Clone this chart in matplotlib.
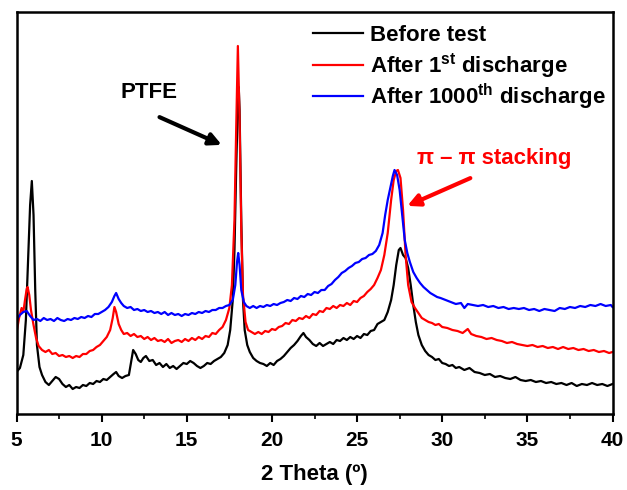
import matplotlib
matplotlib.use("Agg")
import matplotlib.pyplot as plt

plt.rcParams['font.family'] = ['Liberation Sans', 'DejaVu Sans']
plt.rcParams['font.weight'] = 'bold'
plt.rcParams['mathtext.fontset'] = 'custom'
plt.rcParams['mathtext.rm'] = 'Liberation Sans:bold'
plt.rcParams['mathtext.bf'] = 'Liberation Sans:bold'
plt.rcParams['mathtext.it'] = 'Liberation Sans:bold'

# ---- data (arbitrary intensity units) ----
x_before = [5.0, 5.2, 5.4, 5.55, 5.7, 5.8, 5.9, 6.0, 6.1, 6.2, 6.35, 6.5, 6.7, 6.9, 7.1, 7.3, 7.5, 7.7, 7.9,
            8.1, 8.3, 8.5, 8.7, 8.9, 9.1, 9.3, 9.5, 9.7, 9.9, 10.1, 10.3, 10.5, 10.7, 10.85, 11.0, 11.2, 11.4,
            11.6, 11.75, 11.85, 12.0, 12.15, 12.3, 12.45, 12.6, 12.8, 13.0, 13.2, 13.4, 13.6, 13.8, 14.0, 14.2,
            14.4, 14.6, 14.8, 15.0, 15.2, 15.4, 15.6, 15.8, 16.0, 16.2, 16.4, 16.6, 16.8, 17.0, 17.2, 17.4,
            17.55, 17.7, 17.8, 17.9, 18.0, 18.05, 18.1, 18.2, 18.3, 18.4, 18.55, 18.7, 18.9, 19.1, 19.3, 19.5,
            19.7, 19.9, 20.1, 20.3, 20.5, 20.7, 20.9, 21.1, 21.3, 21.5, 21.7, 21.85, 22.0, 22.2, 22.4, 22.6,
            22.8, 23.0, 23.2, 23.4, 23.6, 23.8, 24.0, 24.2, 24.4, 24.6, 24.8, 25.0, 25.2, 25.4, 25.6, 25.8,
            26.0, 26.2, 26.4, 26.6, 26.8, 27.0, 27.15, 27.3, 27.45, 27.55, 27.7, 27.85, 28.0, 28.15, 28.3,
            28.45, 28.6, 28.8, 29.0, 29.2, 29.4, 29.6, 29.8, 30.0, 30.2, 30.4, 30.6, 30.8, 31.0, 31.3, 31.6,
            31.9, 32.2, 32.5, 32.8, 33.1, 33.4, 33.7, 34.0, 34.3, 34.6, 34.9, 35.2, 35.5, 35.8, 36.1, 36.4,
            36.7, 37.0, 37.3, 37.6, 37.9, 38.2, 38.5, 38.8, 39.1, 39.4, 39.7, 40.0]
y_before = [42, 46, 59, 94, 164, 209, 233, 199, 124, 69, 47, 39, 32, 29, 33, 37, 35, 30, 27,
            29, 25, 27, 26, 29, 28, 31, 30, 33, 32, 35, 34, 37, 40, 42, 38, 36, 38,
            39, 54, 64, 60, 54, 52, 56, 58, 53, 54, 49, 51, 47, 50, 46, 48,
            45, 48, 51, 50, 53, 51, 48, 46, 48, 51, 50, 53, 55, 57, 61, 69,
            84, 114, 164, 244, 314, 327, 304, 194, 114, 84, 69, 62, 56, 53, 51, 50,
            48, 51, 49, 53, 55, 58, 62, 66, 69, 73, 78, 81, 77, 74, 70, 68,
            71, 68, 70, 72, 70, 74, 73, 76, 74, 77, 75, 78, 76, 80, 79, 83,
            84, 90, 92, 94, 102, 114, 129, 149, 164, 166, 159, 156, 146, 129, 109,
            92, 79, 69, 63, 59, 57, 54, 55, 51, 50, 48, 49, 46, 47, 44, 46,
            42, 41, 39, 40, 37, 38, 36, 35, 37, 34, 33, 34, 32, 33, 31, 32,
            30, 31, 29, 31, 28, 30, 29, 31, 29, 30, 28, 30]

x_first = [5.0, 5.15, 5.3, 5.4, 5.5, 5.6, 5.65, 5.75, 5.85, 6.0, 6.15, 6.3, 6.5, 6.7, 6.9, 7.1, 7.3, 7.5, 7.7,
           7.9, 8.1, 8.3, 8.5, 8.7, 8.9, 9.1, 9.3, 9.5, 9.7, 9.9, 10.1, 10.3, 10.5, 10.65, 10.75, 10.85, 11.0,
           11.15, 11.3, 11.5, 11.7, 11.9, 12.1, 12.3, 12.5, 12.7, 12.9, 13.1, 13.3, 13.5, 13.7, 13.9, 14.1,
           14.3, 14.5, 14.7, 14.9, 15.1, 15.3, 15.5, 15.7, 15.9, 16.1, 16.3, 16.5, 16.7, 16.9, 17.1, 17.3,
           17.5, 17.65, 17.8, 17.9, 18.0, 18.1, 18.2, 18.3, 18.45, 18.6, 18.8, 19.0, 19.2, 19.4, 19.6, 19.8,
           20.0, 20.2, 20.4, 20.6, 20.8, 21.0, 21.2, 21.4, 21.6, 21.8, 22.0, 22.2, 22.4, 22.6, 22.8, 23.0,
           23.2, 23.4, 23.6, 23.8, 24.0, 24.2, 24.4, 24.6, 24.8, 25.0, 25.2, 25.4, 25.6, 25.8, 26.0, 26.2,
           26.4, 26.6, 26.8, 27.0, 27.15, 27.3, 27.4, 27.55, 27.7, 27.85, 28.0, 28.2, 28.4, 28.6, 28.8, 29.0,
           29.2, 29.4, 29.6, 29.8, 30.0, 30.3, 30.6, 30.9, 31.2, 31.5, 31.7, 32.0, 32.3, 32.6, 32.9, 33.2,
           33.5, 33.8, 34.1, 34.4, 34.7, 35.0, 35.3, 35.6, 35.9, 36.2, 36.5, 36.8, 37.1, 37.4, 37.7, 38.0,
           38.3, 38.6, 38.9, 39.2, 39.5, 39.8, 40.0]
y_first = [81, 96, 106, 102, 114, 125, 127, 119, 104, 89, 76, 68, 64, 62, 64, 60, 61, 58, 59,
           57, 58, 56, 58, 57, 60, 60, 63, 64, 67, 69, 73, 77, 84, 96, 107, 102, 90,
           84, 80, 81, 78, 80, 77, 78, 75, 77, 74, 76, 73, 74, 72, 75, 71,
           73, 74, 72, 75, 73, 76, 74, 77, 75, 78, 77, 81, 80, 84, 87, 94,
           106, 129, 194, 284, 368, 294, 184, 119, 92, 84, 82, 80, 82, 80, 83, 82,
           85, 84, 87, 88, 91, 90, 94, 93, 96, 95, 98, 96, 100, 99, 103, 102,
           106, 105, 108, 106, 109, 108, 111, 109, 113, 112, 116, 118, 122, 125, 129, 136,
           144, 159, 181, 214, 234, 243, 244, 236, 204, 159, 129, 112, 106, 101, 96, 94,
           92, 91, 89, 90, 87, 86, 84, 83, 81, 85, 80, 78, 77, 75, 76, 74,
           73, 71, 72, 70, 69, 68, 69, 67, 68, 66, 67, 65, 67, 65, 66, 64,
           65, 63, 64, 62, 63, 61, 62]

x_1000 = [5.0, 5.2, 5.4, 5.6, 5.8, 6.0, 6.2, 6.4, 6.6, 6.8, 7.0, 7.2, 7.4, 7.6, 7.8, 8.0, 8.2, 8.4, 8.6,
          8.8, 9.0, 9.2, 9.4, 9.6, 9.8, 10.0, 10.2, 10.4, 10.6, 10.75, 10.85, 11.0, 11.15, 11.3, 11.5, 11.7,
          11.9, 12.1, 12.3, 12.5, 12.7, 12.9, 13.1, 13.3, 13.5, 13.7, 13.9, 14.1, 14.3, 14.5, 14.7, 14.9,
          15.1, 15.3, 15.5, 15.7, 15.9, 16.1, 16.3, 16.5, 16.7, 16.9, 17.1, 17.3, 17.5, 17.7, 17.85, 17.95,
          18.02, 18.1, 18.2, 18.35, 18.5, 18.7, 18.9, 19.1, 19.3, 19.5, 19.7, 19.9, 20.1, 20.3, 20.5, 20.7,
          20.9, 21.1, 21.3, 21.5, 21.7, 21.9, 22.1, 22.3, 22.5, 22.7, 22.9, 23.1, 23.3, 23.5, 23.7, 23.9,
          24.1, 24.3, 24.5, 24.7, 24.9, 25.1, 25.3, 25.5, 25.7, 25.9, 26.1, 26.3, 26.5, 26.65, 26.8, 26.95,
          27.1, 27.2, 27.35, 27.5, 27.65, 27.8, 27.95, 28.1, 28.3, 28.5, 28.7, 28.9, 29.1, 29.3, 29.5, 29.7,
          29.9, 30.2, 30.5, 30.8, 31.1, 31.3, 31.5, 31.8, 32.1, 32.4, 32.7, 33.0, 33.3, 33.6, 33.9, 34.2,
          34.5, 34.8, 35.1, 35.4, 35.7, 36.0, 36.3, 36.6, 36.9, 37.2, 37.5, 37.8, 38.1, 38.4, 38.7, 39.0,
          39.3, 39.6, 39.9, 40.0]
y_1000 = [94, 99, 102, 103, 98, 94, 95, 93, 96, 94, 95, 93, 96, 94, 93, 95, 94, 96, 95,
          97, 96, 98, 97, 100, 100, 102, 104, 107, 112, 118, 121, 115, 111, 108, 106, 107,
          104, 105, 103, 104, 102, 103, 101, 102, 100, 102, 99, 101, 99, 100, 98, 100,
          99, 101, 100, 102, 101, 103, 102, 104, 104, 106, 106, 108, 109, 114, 129, 152,
          161, 149, 124, 112, 108, 106, 108, 106, 108, 107, 109, 108, 110, 109, 111, 112,
          114, 113, 116, 115, 118, 117, 120, 119, 122, 121, 124, 124, 128, 130, 134, 137,
          141, 143, 146, 148, 151, 152, 155, 156, 159, 160, 163, 169, 181, 199, 214, 226,
          238, 244, 239, 224, 199, 174, 161, 152, 142, 136, 131, 127, 124, 121, 119, 117,
          116, 114, 112, 110, 111, 106, 110, 109, 108, 109, 107, 108, 106, 107, 105, 106,
          105, 106, 104, 105, 103, 105, 104, 103, 106, 105, 107, 106, 108, 107, 109, 108,
          110, 108, 109, 107]

labels = ['Before test', r'After 1$^{\mathrm{st}}$ discharge', r'After 1000$^{\mathrm{th}}$ discharge']
colors = ['black', '#ff0000', '#0000ff']
x_ticks = [5, 10, 15, 20, 25, 30, 35, 40]

W, H = 627, 490
fig = plt.figure(figsize=(W / 100, H / 100), dpi=100)
AX_L, AX_R, AX_T, AX_B = 16.5, 612.5, 12, 414
ax = fig.add_axes([AX_L / W, (H - AX_B) / H, (AX_R - AX_L) / W, (AX_B - AX_T) / H])


def axfrac(px, py):
    return ((px - AX_L) / (AX_R - AX_L), (AX_B - py) / (AX_B - AX_T))


series = [(x_before, y_before), (x_first, y_first), (x_1000, y_1000)]
for (xs, ys), lab, c in zip(series, labels, colors):
    ax.plot(xs, ys, color=c, lw=1.6, label=lab)

ax.set_xlim(5, 40)
ax.set_ylim(0, 402)
ax.set_yticks([])
ax.set_xticks(x_ticks)
ax.set_xticklabels([str(t) for t in x_ticks], fontsize=15, fontweight='bold')
ax.set_xticks([7.5, 12.5, 17.5, 22.5, 27.5, 32.5, 37.5], minor=True)
ax.tick_params(axis='x', which='major', direction='out', length=6, width=1.5, pad=6)
ax.tick_params(axis='x', which='minor', direction='out', length=3.5, width=1.2)
for s in ax.spines.values():
    s.set_linewidth(1.8)

ax.set_xlabel('2 Theta (º)', fontsize=16, fontweight='bold', labelpad=10)

# legend (manual layout, no frame)
legend_baselines = [41, 72.5, 104]
for lab, c, by in zip(labels, colors, legend_baselines):
    x0, yl = axfrac(313, by - 8)
    x1, _ = axfrac(363, by - 8)
    ax.plot([x0, x1], [yl, yl], color=c, lw=1.6, transform=ax.transAxes, clip_on=False)
    tx, ty = axfrac(370, by)
    ax.text(tx, ty, lab, transform=ax.transAxes, fontsize=16, fontweight='bold',
            ha='left', va='baseline')

ax.text(12.76, 322, 'PTFE', fontsize=16, fontweight='bold', ha='center', va='center')
ax.annotate('', xy=(17.2, 268), xytext=(13.25, 298),
            arrowprops=dict(arrowstyle='-|>', color='black', lw=3, mutation_scale=18))
ax.text(33.05, 256, 'π – π stacking', fontsize=16, fontweight='bold', color='#ff0000',
        ha='center', va='center')
ax.annotate('', xy=(27.8, 207), xytext=(31.8, 237),
            arrowprops=dict(arrowstyle='-|>', color='#ff0000', lw=3, mutation_scale=18))

fig.savefig('out.png', dpi=100)
